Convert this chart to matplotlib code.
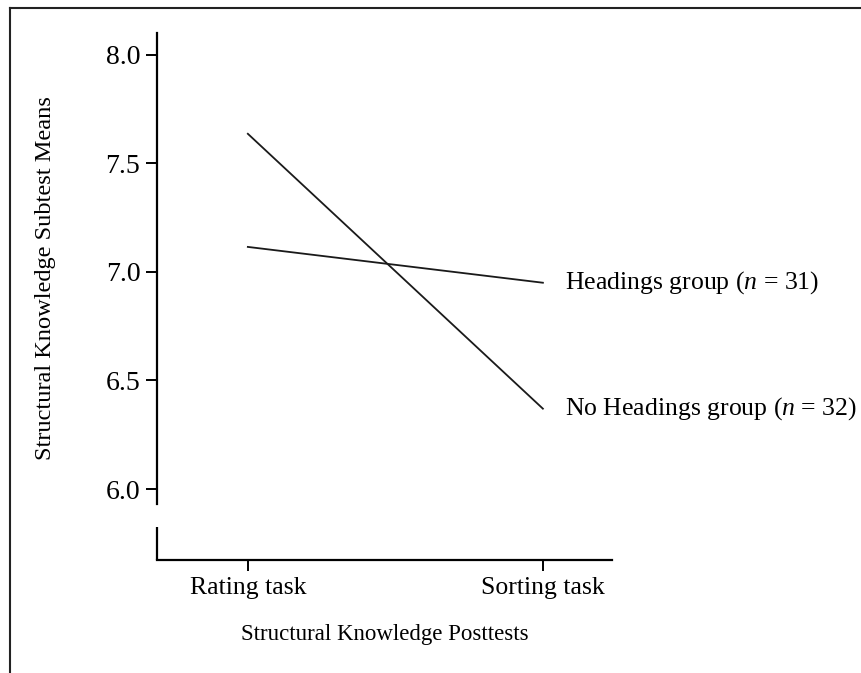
import matplotlib
matplotlib.use('Agg')
import matplotlib.pyplot as plt
from matplotlib.lines import Line2D

plt.rcParams['font.family'] = ['Liberation Serif', 'DejaVu Serif']
plt.rcParams['mathtext.fontset'] = 'custom'
plt.rcParams['mathtext.rm'] = 'Liberation Serif'
plt.rcParams['mathtext.it'] = 'Liberation Serif:italic'

# data
tasks = ['Rating task', 'Sorting task']
headings = [7.115, 6.95]
no_headings = [7.636, 6.37]
labels = ['Headings group ($n$ = 31)', 'No Headings group ($n$ = 32)']
yticks = [6.0, 6.5, 7.0, 7.5, 8.0]

fig = plt.figure(figsize=(8.62, 6.73), dpi=100)
ax = fig.add_axes([0.1821, 0.1679, 0.5278, 0.783])

x = range(len(tasks))
ax.plot(x, headings, color='#1a1a1a', lw=1.3)
ax.plot(x, no_headings, color='#1a1a1a', lw=1.3)

ax.text(1.075, headings[1], labels[0], fontsize=18.5, va='center', ha='left', clip_on=False)
ax.text(1.075, no_headings[1], labels[1], fontsize=18.5, va='center', ha='left', clip_on=False)

ax.set_xlim(-0.308, 1.234)
ax.set_ylim(5.673, 8.10)
ax.set_xticks(list(x))
ax.set_xticklabels(tasks, fontsize=18.5)
ax.set_yticks(yticks)
ax.set_yticklabels(['%.1f' % v for v in yticks], fontsize=20)

for s in ['top', 'right']:
    ax.spines[s].set_visible(False)
ax.spines['left'].set_bounds(5.93, 8.10)
ax.spines['left'].set_linewidth(1.6)
ax.spines['bottom'].set_linewidth(1.6)
# broken axis: short lower segment of the y axis
ax.plot([-0.308, -0.308], [5.673, 5.825], color='black', lw=1.6, clip_on=False,
        solid_capstyle='butt')

ax.tick_params(axis='both', direction='out', length=8, width=1.4, pad=4)

ax.set_ylabel('Structural Knowledge Subtest Means', fontsize=17.6)
ax.yaxis.set_label_coords(-0.222, 0.535)
ax.set_xlabel('Structural Knowledge Posttests', fontsize=16.5, labelpad=18)

# frame lines around the figure (top and left)
fig.add_artist(Line2D([10 / 862, 1], [1 - 8 / 673, 1 - 8 / 673], color='#222222', lw=1.5,
                      transform=fig.transFigure))
fig.add_artist(Line2D([10 / 862, 10 / 862], [0, 1 - 8 / 673], color='#222222', lw=1.5,
                      transform=fig.transFigure))

fig.savefig('out.png', dpi=100)
